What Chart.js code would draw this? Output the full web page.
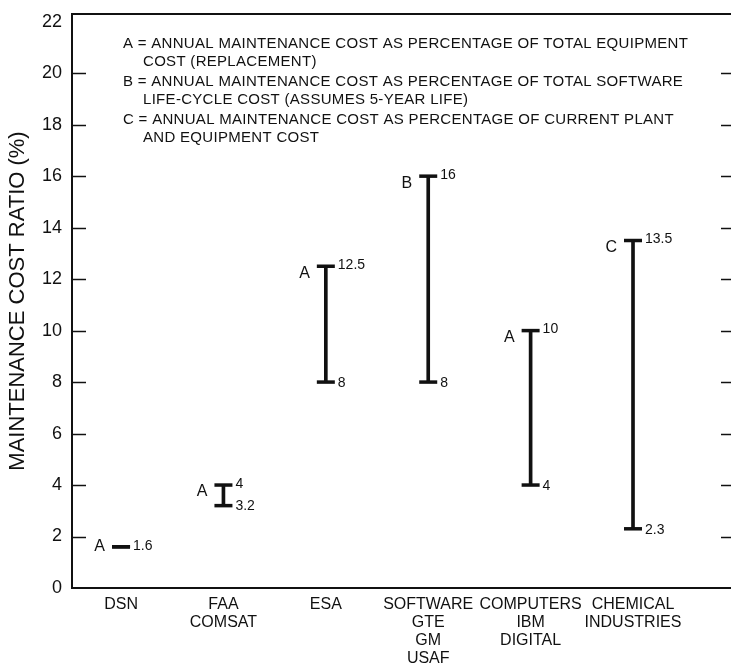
<!DOCTYPE html>
<html><head><meta charset="utf-8">
<script src="https://cdn.jsdelivr.net/npm/chart.js@4"></script>
<style>html,body{margin:0;padding:0;background:#fff}#wrap{width:731px;height:669px}</style>
</head><body><div id="wrap"><canvas id="c" width="731" height="669"></canvas></div>
<script>
// ---- data ----
const categories = [['DSN'], ['FAA', 'COMSAT'], ['ESA'], ['SOFTWARE', 'GTE', 'GM', 'USAF'], ['COMPUTERS', 'IBM', 'DIGITAL'], ['CHEMICAL', 'INDUSTRIES']];
const lowValues = [1.6, 3.2, 8, 8, 4, 2.3];
const highValues = [1.6, 4, 12.5, 16, 10, 13.5];
const basisLetters = ['A', 'A', 'A', 'B', 'A', 'C'];
const highLabels = ['1.6', '4', '12.5', '16', '10', '13.5'];
const lowLabels = ['', '3.2', '8', '8', '4', '2.3'];
const yTickValues = [0, 2, 4, 6, 8, 10, 12, 14, 16, 18, 20, 22];
const yTitle = 'MAINTENANCE COST RATIO (%)';
const legendLines = [
  ['A = ANNUAL MAINTENANCE COST AS PERCENTAGE OF TOTAL EQUIPMENT', false],
  ['COST (REPLACEMENT)', true],
  ['B = ANNUAL MAINTENANCE COST AS PERCENTAGE OF TOTAL SOFTWARE', false],
  ['LIFE-CYCLE COST (ASSUMES 5-YEAR LIFE)', true],
  ['C = ANNUAL MAINTENANCE COST AS PERCENTAGE OF CURRENT PLANT', false],
  ['AND EQUIPMENT COST', true]
];

const INK = '#111';
const FONT = "'Liberation Sans', Arial, Helvetica, sans-serif";

const rangeData = categories.map((c, i) => ({ x: i, y: [lowValues[i], highValues[i]] }));
const capData = [];
categories.forEach((c, i) => { capData.push({ x: i, y: lowValues[i] }); capData.push({ x: i, y: highValues[i] }); });

const annot = {
  id: 'annot',
  afterDraw(chart) {
    const ctx = chart.ctx, xs = chart.scales.x, ys = chart.scales.y, a = chart.chartArea;
    ctx.save();
    ctx.strokeStyle = INK; ctx.fillStyle = INK;
    // top frame line
    ctx.lineWidth = 2;
    ctx.beginPath(); ctx.moveTo(a.left - 1, a.top); ctx.lineTo(a.right, a.top); ctx.stroke();
    // inward ticks
    ctx.lineWidth = 1.5;
    yTickValues.forEach(v => {
      if (v === 0 || v === 22) return;
      const y = Math.round(ys.getPixelForValue(v)) + 0.5;
      ctx.beginPath(); ctx.moveTo(a.left, y); ctx.lineTo(a.left + 14, y); ctx.stroke();
      ctx.beginPath(); ctx.moveTo(a.right - 10, y); ctx.lineTo(a.right, y); ctx.stroke();
    });
    // value labels and letters
    ctx.textBaseline = 'middle';
    categories.forEach((c, i) => {
      const x = xs.getPixelForValue(i);
      const yh = ys.getPixelForValue(highValues[i]);
      const yl = ys.getPixelForValue(lowValues[i]);
      ctx.font = '14px ' + FONT;
      ctx.textAlign = 'left';
      if (highLabels[i]) ctx.fillText(highLabels[i], x + 12, yh - 1);
      if (lowLabels[i]) ctx.fillText(lowLabels[i], x + 12, yl + 1);
      ctx.textAlign = 'right';
      ctx.font = '16px ' + FONT;
      ctx.fillText(basisLetters[i], x - 16, yh + Math.min(7, (yl - yh) / 2));
    });
    // legend text
    ctx.textAlign = 'left';
    ctx.font = '15px ' + FONT;
    try { ctx.letterSpacing = '0.3px'; } catch (e) {}
    const ly = [44, 62, 82, 100, 120, 138];
    legendLines.forEach((l, k) => {
      ctx.fillText(l[0], l[1] ? 143 : 123, ly[k]);
    });
    ctx.restore();
  }
};

new Chart(document.getElementById('c'), {
  type: 'bar',
  data: {
    datasets: [
      { type: 'bar', data: rangeData, backgroundColor: INK, borderWidth: 0, barThickness: 3, borderSkipped: false },
      { type: 'line', data: capData, showLine: false, pointStyle: 'line', pointRadius: 9, pointBorderWidth: 3.5, pointBorderColor: INK, pointBackgroundColor: INK }
    ]
  },
  options: {
    responsive: false,
    animation: false,
    events: [],
    layout: { autoPadding: false, padding: { top: 14, right: 0, bottom: 0, left: 0 } },
    plugins: { legend: { display: false }, tooltip: { enabled: false } },
    scales: {
      x: {
        type: 'linear', offset: false, min: -0.479, max: 5.957,
        grid: { display: false, drawTicks: false },
        border: { display: true, color: INK, width: 2 },
        ticks: {
          stepSize: 1, autoSkip: false, includeBounds: false, maxRotation: 0, padding: 8,
          color: INK, font: { family: FONT, size: 16, lineHeight: 1.125 },
          callback: v => (Number.isInteger(v) && categories[v]) ? categories[v] : ''
        },
        afterFit: s => { s.height = 81; s.paddingLeft = 0; s.paddingRight = 0; }
      },
      y: {
        type: 'linear', min: 0, max: 22.3,
        grid: { display: false, drawTicks: false },
        border: { display: true, color: INK, width: 2 },
        ticks: {
          stepSize: 2, includeBounds: false, padding: 10, color: INK,
          font: { family: FONT, size: 18 },
          callback: v => yTickValues.includes(v) ? String(v) : ''
        },
        title: { display: true, text: yTitle, color: INK, font: { family: FONT, size: 22 }, padding: { top: 5, bottom: 0 } },
        afterFit: s => { s.width = 72; s.paddingTop = 0; s.paddingBottom = 0; }
      }
    }
  },
  plugins: [annot]
});
</script></body></html>
